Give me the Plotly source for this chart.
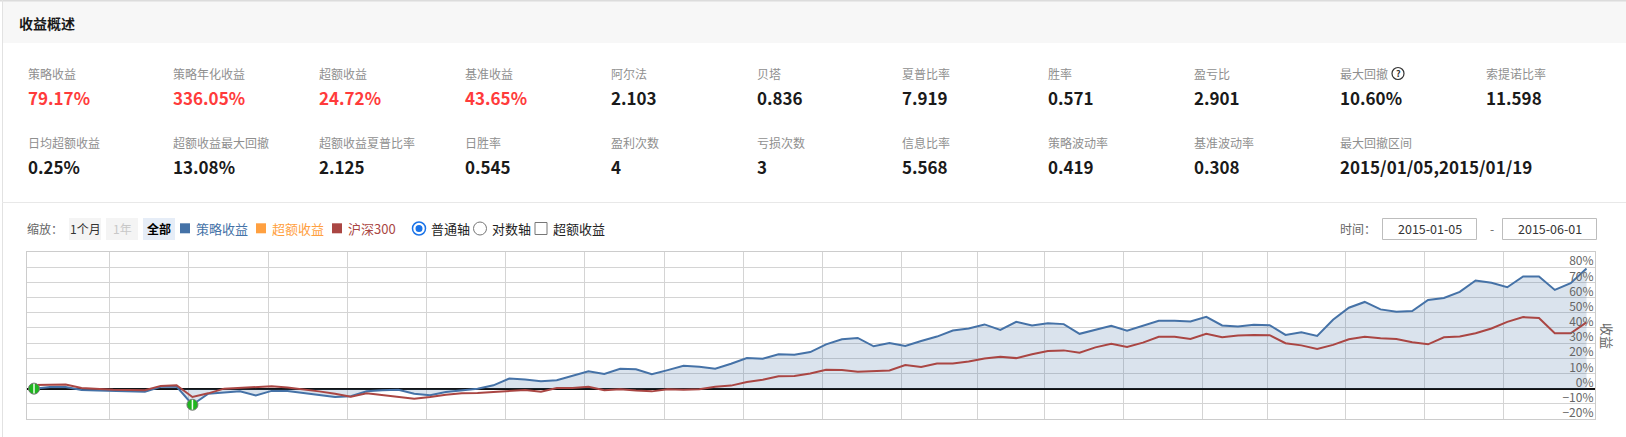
import plotly.graph_objects as go
import pandas as pd

# ---------------- data ----------------
dates = [
    "2015-01-05", "2015-01-06", "2015-01-07", "2015-01-08", "2015-01-09",
    "2015-01-12", "2015-01-13", "2015-01-14", "2015-01-15", "2015-01-16",
    "2015-01-19", "2015-01-20", "2015-01-21", "2015-01-22", "2015-01-23",
    "2015-01-26", "2015-01-27", "2015-01-28", "2015-01-29", "2015-01-30",
    "2015-02-02", "2015-02-03", "2015-02-04", "2015-02-05", "2015-02-06",
    "2015-02-09", "2015-02-10", "2015-02-11", "2015-02-12", "2015-02-13",
    "2015-02-16", "2015-02-17", "2015-02-25", "2015-02-26", "2015-02-27",
    "2015-03-02", "2015-03-03", "2015-03-04", "2015-03-05", "2015-03-06",
    "2015-03-09", "2015-03-10", "2015-03-11", "2015-03-12", "2015-03-13",
    "2015-03-16", "2015-03-17", "2015-03-18", "2015-03-19", "2015-03-20",
    "2015-03-23", "2015-03-24", "2015-03-25", "2015-03-26", "2015-03-27",
    "2015-03-30", "2015-03-31", "2015-04-01", "2015-04-02", "2015-04-03",
    "2015-04-07", "2015-04-08", "2015-04-09", "2015-04-10",
    "2015-04-13", "2015-04-14", "2015-04-15", "2015-04-16", "2015-04-17",
    "2015-04-20", "2015-04-21", "2015-04-22", "2015-04-23", "2015-04-24",
    "2015-04-27", "2015-04-28", "2015-04-29", "2015-04-30",
    "2015-05-04", "2015-05-05", "2015-05-06", "2015-05-07", "2015-05-08",
    "2015-05-11", "2015-05-12", "2015-05-13", "2015-05-14", "2015-05-15",
    "2015-05-18", "2015-05-19", "2015-05-20", "2015-05-21", "2015-05-22",
    "2015-05-25", "2015-05-26", "2015-05-27", "2015-05-28", "2015-05-29",
    "2015-06-01",
]

strategy = [
    0.0, 1.0, 1.0, -0.9, -1.3, -1.5, -1.8, -2.0, 1.2, 1.4,
    -10.6, -3.3, -2.5, -1.8, -4.5, -1.5, -1.5, -2.7, -3.8, -5.5,
    -5.0, -1.7, -1.1, -0.7, -3.4, -4.4, -2.2, -0.9, 0.0, 2.2,
    6.6, 6.0, 4.9, 5.5, 8.4, 11.5, 9.7, 13.1, 12.8, 9.5,
    12.2, 15.0, 14.4, 13.1, 16.4, 20.1, 19.7, 22.6, 22.3, 24.1,
    29.2, 32.5, 33.4, 27.9, 30.1, 28.1, 31.4, 34.3, 38.3, 39.6,
    42.3, 38.7, 44.0, 41.6, 43.1, 42.5, 36.1, 38.7, 41.4, 38.1,
    41.2, 44.7, 44.7, 44.2, 47.3, 41.6, 40.9, 42.0, 41.8, 35.4,
    37.2, 34.7, 45.4, 53.3, 57.1, 52.2, 50.7, 51.1, 58.4, 59.7,
    63.7, 71.2, 69.7, 66.8, 73.9, 73.9, 65.0, 69.5, 79.17,
]

benchmark = [
    2.4, 2.7, 2.7, 0.4, -0.2, -0.7, -0.9, -1.1, 1.8, 2.2,
    -5.5, -3.1, 0.0, 0.4, 0.7, 1.5, 0.7, -0.4, -1.8, -3.3,
    -5.3, -3.1, -4.2, -5.5, -6.6, -5.5, -4.0, -3.1, -2.9, -2.2,
    -1.5, -0.9, -2.0, 0.4, 0.4, 1.3, -1.1, -0.4, -1.3, -1.8,
    -0.4, -0.7, -0.4, 1.3, 2.0, 4.4, 5.8, 8.2, 8.4, 10.0,
    12.4, 12.2, 11.1, 11.3, 11.9, 15.5, 14.2, 16.6, 16.6, 17.9,
    19.9, 21.0, 20.1, 22.6, 24.8, 25.2, 23.7, 27.2, 29.6, 27.4,
    30.3, 34.1, 34.1, 32.7, 36.1, 33.8, 35.0, 35.4, 35.2, 29.9,
    28.5, 26.1, 28.8, 32.5, 34.1, 33.2, 32.7, 30.5, 29.2, 33.8,
    34.3, 36.5, 39.6, 44.0, 47.1, 46.5, 36.5, 36.5, 43.65,
]

drawdown_dates = ["2015-01-05", "2015-01-19"]

week_ticks = [
    "2015-01-12", "2015-01-19", "2015-01-26", "2015-02-02", "2015-02-09",
    "2015-02-16", "2015-03-02", "2015-03-09", "2015-03-16", "2015-03-23",
    "2015-03-30", "2015-04-06", "2015-04-13", "2015-04-20", "2015-04-27",
    "2015-05-04", "2015-05-11", "2015-05-18", "2015-05-25",
]

y_ticks = [-20, -10, 0, 10, 20, 30, 40, 50, 60, 70, 80]
y_ticktext = [("\u2212" + str(-v) if v < 0 else str(v)) + "%" for v in y_ticks]

metric_row1_labels = ["策略收益", "策略年化收益", "超额收益", "基准收益", "阿尔法", "贝塔",
                      "夏普比率", "胜率", "盈亏比", "最大回撤", "索提诺比率"]
metric_row1_values = ["79.17%", "336.05%", "24.72%", "43.65%", "2.103", "0.836",
                      "7.919", "0.571", "2.901", "10.60%", "11.598"]
metric_row1_red = [True, True, True, True, False, False, False, False, False, False, False]
metric_row2_labels = ["日均超额收益", "超额收益最大回撤", "超额收益夏普比率", "日胜率", "盈利次数",
                      "亏损次数", "信息比率", "策略波动率", "基准波动率", "最大回撤区间"]
metric_row2_values = ["0.25%", "13.08%", "2.125", "0.545", "4", "3", "5.568", "0.419",
                      "0.308", "2015/01/05,2015/01/19"]

series_names = ["策略收益", "超额收益", "沪深300"]
date_start, date_end = "2015-01-05", "2015-06-01"

# ---------------- geometry helpers ----------------
W, H = 1626, 437
L, R, T, B = 27, 1595, 252, 419
PW, PH = R - L, B - T

def X(px):
    return (px - L) / PW

def Y(py):
    return (B - py) / PH

FONT = "Microsoft YaHei, Noto Sans CJK SC, sans-serif"

idx = list(range(len(dates)))
t = pd.to_datetime(dates)

def ordinal_pos(day):
    m = pd.Timestamp(day) - pd.Timedelta(hours=16)
    j = int(t.searchsorted(m, side="right")) - 1
    return j + (m - t[j]) / (t[j + 1] - t[j])

tickvals = [ordinal_pos(d) for d in week_ticks]

BLUE = "#4572A7"
RED = "#AA4643"
ORANGE = "#FFA040"

fig = go.Figure()
fig.add_trace(go.Scatter(
    x=idx, y=strategy, mode="lines", name=series_names[0],
    line=dict(color=BLUE, width=2), fill="tozeroy",
    fillcolor="rgba(69,114,167,0.2)", customdata=dates,
    hovertemplate="%{customdata}<br>%{y:.2f}%<extra></extra>",
))
fig.add_trace(go.Scatter(
    x=idx, y=benchmark, mode="lines", name=series_names[2],
    line=dict(color=RED, width=2), customdata=dates,
    hovertemplate="%{customdata}<br>%{y:.2f}%<extra></extra>",
))
dd_idx = [dates.index(d) for d in drawdown_dates]
dd_val = [strategy[i] for i in dd_idx]
fig.add_trace(go.Scatter(
    x=dd_idx, y=dd_val, mode="markers", hoverinfo="skip",
    marker=dict(size=11, color="#1fb51f", line=dict(color="#777777", width=1)),
))
fig.add_trace(go.Scatter(
    x=dd_idx, y=dd_val, mode="markers", hoverinfo="skip",
    marker=dict(size=7, symbol="line-ns", line=dict(color="#f0fff0", width=1.5)),
))
# invisible trace that carries the label axis (y2)
fig.add_trace(go.Scatter(x=idx, y=strategy, mode="none", yaxis="y2", hoverinfo="skip"))

shapes = []
ann = []

# panel chrome
shapes.append(dict(type="rect", xref="paper", yref="paper", x0=X(2), x1=X(1626),
                   y0=Y(43), y1=Y(0), fillcolor="#f7f7f7", line=dict(width=0)))
shapes.append(dict(type="line", xref="paper", yref="paper", x0=X(0), x1=X(1626),
                   y0=Y(0.7), y1=Y(0.7), line=dict(color="#dcdcdc", width=1.5)))
shapes.append(dict(type="line", xref="paper", yref="paper", x0=X(2.5), x1=X(2.5),
                   y0=Y(0), y1=Y(437), line=dict(color="#e2e2e2", width=1)))
shapes.append(dict(type="line", xref="paper", yref="paper", x0=X(2), x1=X(1626),
                   y0=Y(202.5), y1=Y(202.5), line=dict(color="#e8e8e8", width=1)))

ann.append(dict(text="<b>收益概述</b>", x=X(17), y=Y(22.5), xanchor="left", yanchor="middle",
                font=dict(size=14, color="#1a1a1a", family=FONT)))

col_x = [26.5 + 145.8 * k for k in range(11)]
for k, (lab, val, red) in enumerate(zip(metric_row1_labels, metric_row1_values, metric_row1_red)):
    ann.append(dict(text=lab, x=X(col_x[k] - 1), y=Y(73.5), xanchor="left", yanchor="middle",
                    font=dict(size=12, color="#8f8f8f", family=FONT)))
    ann.append(dict(text="<b>" + val + "</b>", x=X(col_x[k] - 1), y=Y(97.5), xanchor="left",
                    yanchor="middle",
                    font=dict(size=17, color="#ff3b3b" if red else "#1a1a1a", family=FONT)))
for k, (lab, val) in enumerate(zip(metric_row2_labels, metric_row2_values)):
    ann.append(dict(text=lab, x=X(col_x[k] - 1), y=Y(142.3), xanchor="left", yanchor="middle",
                    font=dict(size=12, color="#8f8f8f", family=FONT)))
    ann.append(dict(text="<b>" + val + "</b>", x=X(col_x[k] - 1), y=Y(166), xanchor="left",
                    yanchor="middle", font=dict(size=17, color="#1a1a1a", family=FONT)))

# question icon after 最大回撤
qx, qy = 1398, 73.5
shapes.append(dict(type="circle", xref="paper", yref="paper", x0=X(qx - 6), x1=X(qx + 6),
                   y0=Y(qy + 6), y1=Y(qy - 6), line=dict(color="#333333", width=1.2)))
ann.append(dict(text="<b>?</b>", x=X(qx), y=Y(qy + 0.5), xanchor="center", yanchor="middle",
                font=dict(size=9, color="#333333", family=FONT)))

# toolbar
ty = 228.5
ann.append(dict(text="缩放：", x=X(25), y=Y(ty), xanchor="left", yanchor="middle",
                font=dict(size=12, color="#666666", family=FONT)))
for (x0, x1, txt, bg, col, bold) in [
    (69, 101, "1个月", "#f4f4f4", "#333333", False),
    (106, 138, "1年", "#f4f4f4", "#c8c8c8", False),
    (143, 175, "全部", "#e6edf7", "#000000", True),
]:
    shapes.append(dict(type="rect", xref="paper", yref="paper", x0=X(x0), x1=X(x1),
                       y0=Y(240), y1=Y(218), fillcolor=bg, line=dict(width=0)))
    ann.append(dict(text=("<b>%s</b>" % txt) if bold else txt, x=X((x0 + x1) / 2), y=Y(ty),
                    xanchor="center", yanchor="middle",
                    font=dict(size=12, color=col, family=FONT)))

for (sx, tx, name, col) in [(180, 194, series_names[0], BLUE),
                            (256, 270, series_names[1], ORANGE),
                            (332, 346, series_names[2], RED)]:
    shapes.append(dict(type="rect", xref="paper", yref="paper", x0=X(sx), x1=X(sx + 10),
                       y0=Y(233.3), y1=Y(223.3), fillcolor=col, line=dict(width=0)))
    ann.append(dict(text=name, x=X(tx), y=Y(ty), xanchor="left", yanchor="middle",
                    font=dict(size=13, color=col, family=FONT)))

# radio buttons / checkbox
shapes.append(dict(type="circle", xref="paper", yref="paper", x0=X(412.5), x1=X(425.5),
                   y0=Y(235), y1=Y(222), line=dict(color="#1a73e8", width=1.5),
                   fillcolor="white"))
shapes.append(dict(type="circle", xref="paper", yref="paper", x0=X(415.5), x1=X(422.5),
                   y0=Y(232), y1=Y(225), line=dict(width=0), fillcolor="#1a73e8"))
ann.append(dict(text="普通轴", x=X(429), y=Y(ty), xanchor="left", yanchor="middle",
                font=dict(size=13, color="#222222", family=FONT)))
shapes.append(dict(type="circle", xref="paper", yref="paper", x0=X(473.5), x1=X(486.5),
                   y0=Y(235), y1=Y(222), line=dict(color="#777777", width=1),
                   fillcolor="white"))
ann.append(dict(text="对数轴", x=X(489.5), y=Y(ty), xanchor="left", yanchor="middle",
                font=dict(size=13, color="#222222", family=FONT)))
shapes.append(dict(type="rect", xref="paper", yref="paper", x0=X(535), x1=X(547),
                   y0=Y(234.5), y1=Y(222.5), line=dict(color="#777777", width=1),
                   fillcolor="white"))
ann.append(dict(text=series_names[1], x=X(551), y=Y(ty), xanchor="left", yanchor="middle",
                font=dict(size=13, color="#222222", family=FONT)))

# date range
ann.append(dict(text="时间：", x=X(1338), y=Y(ty), xanchor="left", yanchor="middle",
                font=dict(size=12, color="#666666", family=FONT)))
for (x0, x1, txt) in [(1382.5, 1476.5, date_start), (1502.5, 1596.5, date_end)]:
    shapes.append(dict(type="rect", xref="paper", yref="paper", x0=X(x0), x1=X(x1),
                       y0=Y(239.5), y1=Y(218.5), line=dict(color="#bdbdbd", width=1),
                       fillcolor="white"))
    ann.append(dict(text=txt, x=X((x0 + x1) / 2), y=Y(ty), xanchor="center", yanchor="middle",
                    font=dict(size=12.5, color="#333333", family=FONT)))
ann.append(dict(text="-", x=X(1491.5), y=Y(ty), xanchor="center", yanchor="middle",
                font=dict(size=12, color="#666666", family=FONT)))

# y-axis title
ann.append(dict(text="收益", x=X(1608), y=Y(336), xanchor="center", yanchor="middle",
                textangle=90, font=dict(size=13, color="#666666", family=FONT)))

for a in ann:
    a.setdefault("xref", "paper")
    a.setdefault("yref", "paper")
    a["showarrow"] = False

yrange = [-20, 90]
fig.update_layout(
    width=W, height=H,
    margin=dict(l=L, r=W - R, t=T, b=H - B, autoexpand=False),
    paper_bgcolor="white", plot_bgcolor="white",
    showlegend=False,
    font=dict(family=FONT),
    shapes=shapes, annotations=ann,
    xaxis=dict(
        range=[-0.442, 98.537], tickmode="array", tickvals=tickvals,
        showticklabels=False, ticks="", showgrid=True, gridcolor="#d4d4d4", gridwidth=1,
        zeroline=False, showline=True, mirror=True, linecolor="#cccccc", linewidth=1,
    ),
    yaxis=dict(
        range=yrange, tickmode="array", tickvals=y_ticks, showticklabels=False, ticks="",
        showgrid=True, gridcolor="#d4d4d4", gridwidth=1,
        zeroline=True, zerolinecolor="#111111", zerolinewidth=1.5,
        showline=True, mirror=True, linecolor="#cccccc", linewidth=1,
    ),
    yaxis2=dict(
        overlaying="y", side="left", anchor="free", position=X(1593.5),
        range=yrange, tickmode="array", tickvals=y_ticks, ticktext=y_ticktext,
        ticks="", ticklabelshift=-6, ticklabelstandoff=0,
        tickfont=dict(size=12, color="#666666", family=FONT),
        showgrid=False, zeroline=False, showline=False,
    ),
)

fig.write_html(
    "out.html",
    config={"displayModeBar": False},
    post_script="document.body.style.margin='0';document.body.style.overflow='hidden';",
)
